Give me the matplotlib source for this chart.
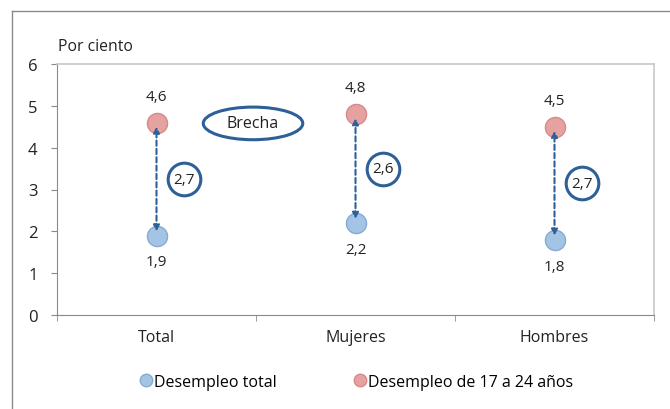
import matplotlib
matplotlib.use("Agg")
import matplotlib.pyplot as plt
from matplotlib.lines import Line2D
from matplotlib.patches import Ellipse

plt.rcParams['font.family'] = ['Open Sans', 'DejaVu Sans']

categorias = ["Total", "Mujeres", "Hombres"]
desempleo_total = [1.9, 2.2, 1.8]
desempleo_jovenes = [4.6, 4.8, 4.5]
brechas = [2.7, 2.6, 2.7]
etiquetas_total = ["1,9", "2,2", "1,8"]
etiquetas_jovenes = ["4,6", "4,8", "4,5"]
etiquetas_brecha = ["2,7", "2,6", "2,7"]

azul = "#a3c4e4"
azul_borde = "#85abd5"
rojo = "#e6a1a1"
rojo_borde = "#d88a8a"
linea = "#2f5f97"
texto = "#222222"

fig = plt.figure(figsize=(6.7, 4.1), dpi=100)
ax = fig.add_axes([57 / 670, 94 / 410, 597 / 670, 251 / 410])

x = list(range(len(categorias)))

# flechas de brecha
for i in x:
    ax.annotate("", xy=(i, desempleo_jovenes[i]), xytext=(i, desempleo_total[i]),
                arrowprops=dict(arrowstyle="<|-|>,head_length=0.35,head_width=0.18",
                                color=linea, lw=1.5, linestyle=(0, (2.5, 1.5)),
                                shrinkA=3, shrinkB=3), zorder=4)

ax.plot(x, desempleo_total, "o", ms=14.5, mfc=azul, mec=azul_borde, mew=1, ls="none", zorder=3)
ax.plot(x, desempleo_jovenes, "o", ms=14.5, mfc=rojo, mec=rojo_borde, mew=1, ls="none", zorder=3)

for i in x:
    ax.annotate(etiquetas_jovenes[i], (i, desempleo_jovenes[i]), xytext=(0, 19),
                textcoords="offset points", ha="center", va="center", fontsize=11, color=texto)
    ax.annotate(etiquetas_total[i], (i, desempleo_total[i]), xytext=(0, -19),
                textcoords="offset points", ha="center", va="center", fontsize=11, color=texto)
    medio = (desempleo_total[i] + desempleo_jovenes[i]) / 2
    ax.plot([i + 0.14], [medio], "o", ms=23.5, mfc="white", mec=linea, mew=2.2, zorder=5)
    ax.text(i + 0.14, medio, etiquetas_brecha[i], ha="center", va="center",
            fontsize=11, color=texto, zorder=6)

# elipse "Brecha"
ax.add_patch(Ellipse((0.485, 4.58), 0.5, 0.78, fill=False, edgecolor=linea, lw=2.2, zorder=5))
ax.text(0.485, 4.58, "Brecha", ha="center", va="center", fontsize=11.5, color=texto)

ax.set_xlim(-0.5, 2.5)
ax.set_ylim(0, 6)
ax.set_yticks(range(0, 7))
ax.set_xticks(x)
ax.set_xticklabels(categorias, fontsize=11.5)
ax.set_xticks([-0.5, 0.5, 1.5, 2.5], minor=True)
ax.tick_params(axis="x", which="major", length=0, pad=10, colors=texto)
ax.tick_params(axis="x", which="minor", length=4, color="#8a8a8a")
ax.tick_params(axis="y", length=4, color="#8a8a8a", labelsize=12, pad=10, labelcolor=texto)
for s in ["left", "bottom"]:
    ax.spines[s].set_color("#8a8a8a")
for s in ["top", "right"]:
    ax.spines[s].set_color("#c8c8c8")
    ax.spines[s].set_linewidth(1.2)

fig.text(58 / 670, 1 - 47 / 410, "Por ciento", fontsize=11.3, va="center", ha="left", color=texto)

# marco exterior
fig.add_artist(Line2D([12 / 670, 12 / 670], [0, 1 - 12 / 410], transform=fig.transFigure, color="#8a8a8a", lw=1))
fig.add_artist(Line2D([12 / 670, 1], [1 - 12 / 410, 1 - 12 / 410], transform=fig.transFigure, color="#8a8a8a", lw=1))

handles = [
    Line2D([], [], marker="o", ls="none", ms=9, mfc=azul, mec=azul_borde, label="Desempleo total"),
    Line2D([], [], marker="o", ls="none", ms=9, mfc=rojo, mec=rojo_borde, label="Desempleo de 17 a 24 años"),
]
fig.legend(handles=handles, loc="center", bbox_to_anchor=(0.532, 27 / 410), ncol=2, frameon=False,
           fontsize=11.5, handlelength=0.8, handletextpad=0.1, columnspacing=4.8)

fig.savefig("out.png", dpi=100)
